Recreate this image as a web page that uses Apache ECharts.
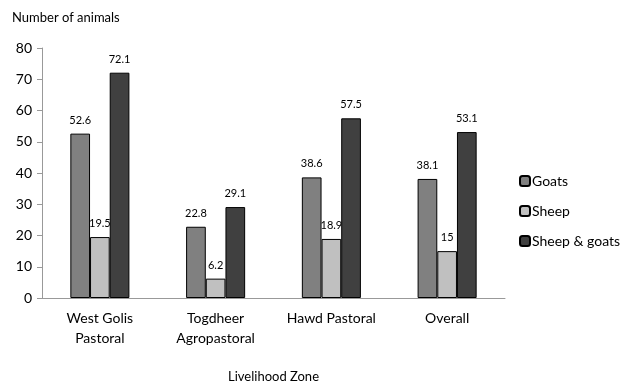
<!DOCTYPE html>
<html><head><meta charset="utf-8">
<script src="https://cdn.jsdelivr.net/npm/echarts@6/dist/echarts.min.js"></script>
<style>html,body{margin:0;padding:0;background:#fff}#c{width:625px;height:382px}</style>
</head><body><div id="c"></div>
<script>
const categories = ['West Golis\nPastoral', 'Togdheer\nAgropastoral', 'Hawd Pastoral', 'Overall'];
const goats = [52.6, 22.8, 38.6, 38.1];
const sheep = [19.5, 6.2, 18.9, 15];
const sheepGoats = [72.1, 29.1, 57.5, 53.1];
const yTicks = [0, 10, 20, 30, 40, 50, 60, 70, 80];

const font = 'Lato, "Open Sans", sans-serif';
function bar(name, data, color) {
  return {
    name, type: 'bar', data, barGap: '0%', barCategoryGap: '49%',
    itemStyle: { color, borderColor: '#000', borderWidth: 1 },
    label: { show: true, position: 'top', distance: 8, color: '#000', fontSize: 11, fontFamily: font },
    emphasis: { disabled: true }
  };
}
const chart = echarts.init(document.getElementById('c'));
chart.setOption({
  animation: false,
  grid: { left: 42, right: 120, top: 48, bottom: 84, containLabel: false, outerBoundsMode: 'none' },
  legend: {
    orient: 'vertical', left: 514, top: 169, itemGap: 16,
    itemWidth: 10, itemHeight: 10,
    textStyle: { fontSize: 14, fontFamily: font, color: '#000', padding: [0, 0, 0, -3] },
    data: ['Goats', 'Sheep', 'Sheep & goats']
  },
  xAxis: {
    type: 'category', data: categories,
    name: 'Livelihood Zone', nameLocation: 'middle', nameGap: 72,
    nameTextStyle: { fontSize: 13, fontFamily: font, color: '#000' },
    axisLine: { lineStyle: { color: '#999' } },
    axisTick: { show: false },
    axisLabel: { fontSize: 14, fontFamily: font, color: '#000', margin: 10, lineHeight: 20, interval: 0 }
  },
  yAxis: {
    type: 'value', min: yTicks[0], max: yTicks[yTicks.length - 1], interval: 10,
    name: 'Number of animals', nameLocation: 'end', nameGap: 24,
    nameTextStyle: { fontSize: 13, fontFamily: font, color: '#000', align: 'left', padding: [0, 0, 0, -30] },
    axisLine: { show: true, lineStyle: { color: '#999' } },
    axisTick: { show: true, length: 5, lineStyle: { color: '#999' } },
    splitLine: { show: false },
    axisLabel: { fontSize: 14, fontFamily: font, color: '#000', margin: 10 }
  },
  series: [
    bar('Goats', goats, '#808080'),
    bar('Sheep', sheep, '#c0c0c0'),
    bar('Sheep & goats', sheepGoats, '#404040')
  ]
});
</script></body></html>
